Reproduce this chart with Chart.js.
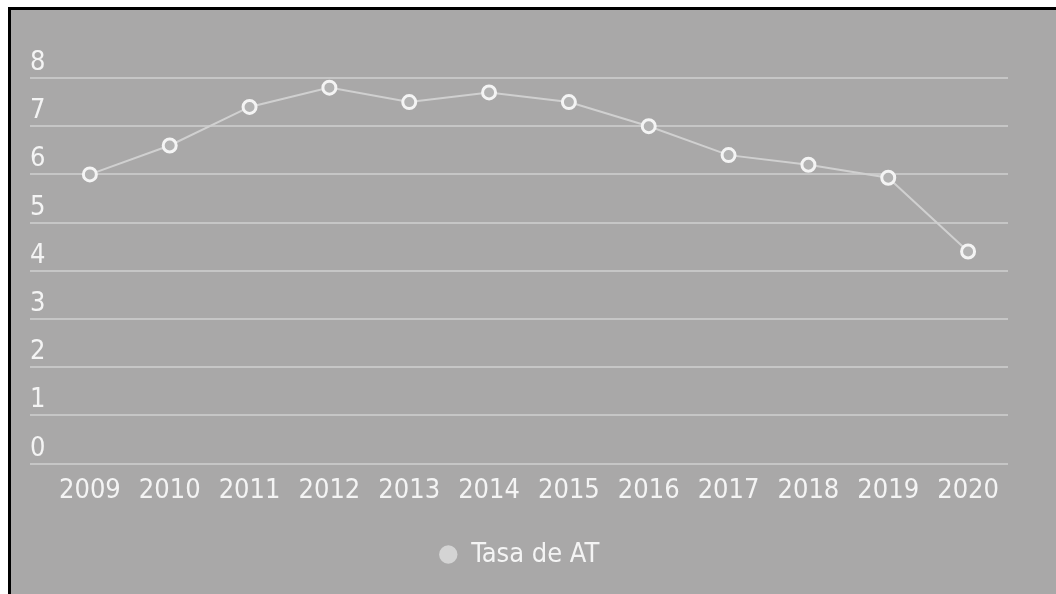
<!DOCTYPE html>
<html>
<head>
<meta charset="utf-8">
<script src="https://cdn.jsdelivr.net/npm/chart.js@4"></script>
<style>
  body { margin: 0; background: #fff; overflow: hidden; }
  #marco {
    position: absolute; left: 8px; top: 7px;
    width: 1045px; height: 584px;
    border-left: 3px solid #000; border-top: 3px solid #000;
    background: #a9a8a8;
  }
  #grafico { display: block; }
</style>
</head>
<body>
<div id="marco"><canvas id="grafico" width="1045" height="584"></canvas></div>
<script>
const anios = [2009, 2010, 2011, 2012, 2013, 2014, 2015, 2016, 2017, 2018, 2019, 2020];
const tasaAT = [6.0, 6.6, 7.4, 7.8, 7.5, 7.7, 7.5, 7.0, 6.4, 6.2, 5.93, 4.4];
const etiquetaSerie = 'Tasa de AT';

const fuente = "'Liberation Sans Narrow', 'DejaVu Sans Condensed', sans-serif";
const blanco = '#f4f4f4';

const grafico = new Chart(document.getElementById('grafico'), {
  type: 'line',
  data: {
    datasets: [{
      label: etiquetaSerie,
      data: anios.map((a, i) => ({ x: a, y: tasaAT[i] })),
      borderColor: '#d0d0d0',
      borderWidth: 2,
      pointRadius: 6.5,
      pointBackgroundColor: '#b3b3b3',
      pointBorderColor: blanco,
      pointBorderWidth: 3,
      tension: 0
    }]
  },
  options: {
    responsive: false,
    animation: false,
    layout: { padding: { left: 19, right: 48, top: 68, bottom: 16 } },
    scales: {
      x: {
        type: 'linear',
        min: 2008.25,
        max: 2020.5,
        afterBuildTicks: s => { s.ticks = anios.map(v => ({ value: v })) },
        afterFit: s => { s.height += 21 },
        grid: { display: false },
        border: { display: false },
        ticks: {
          color: blanco,
          font: { family: fuente, size: 27 },
          padding: 3,
          maxRotation: 0,
          autoSkip: false,
          callback: v => String(v)
        }
      },
      y: {
        min: 0,
        max: 8,
        grid: { color: '#c6c6c6', lineWidth: 2, drawTicks: false },
        border: { display: false },
        ticks: {
          stepSize: 1,
          mirror: true,
          padding: 0,
          labelOffset: -15,
          color: blanco,
          font: { family: fuente, size: 27 }
        }
      }
    },
    plugins: {
      tooltip: { enabled: false },
      legend: {
        position: 'bottom',
        labels: {
          usePointStyle: true,
          boxWidth: 19,
          boxHeight: 13,
          color: blanco,
          font: { family: fuente, size: 27 },
          generateLabels: c => Chart.defaults.plugins.legend.labels.generateLabels(c).map(l => {
            l.fillStyle = '#d4d4d4';
            l.strokeStyle = '#d4d4d4';
            l.lineWidth = 0;
            l.pointStyle = 'circle';
            return l;
          })
        }
      }
    }
  }
});
</script>
</body>
</html>
